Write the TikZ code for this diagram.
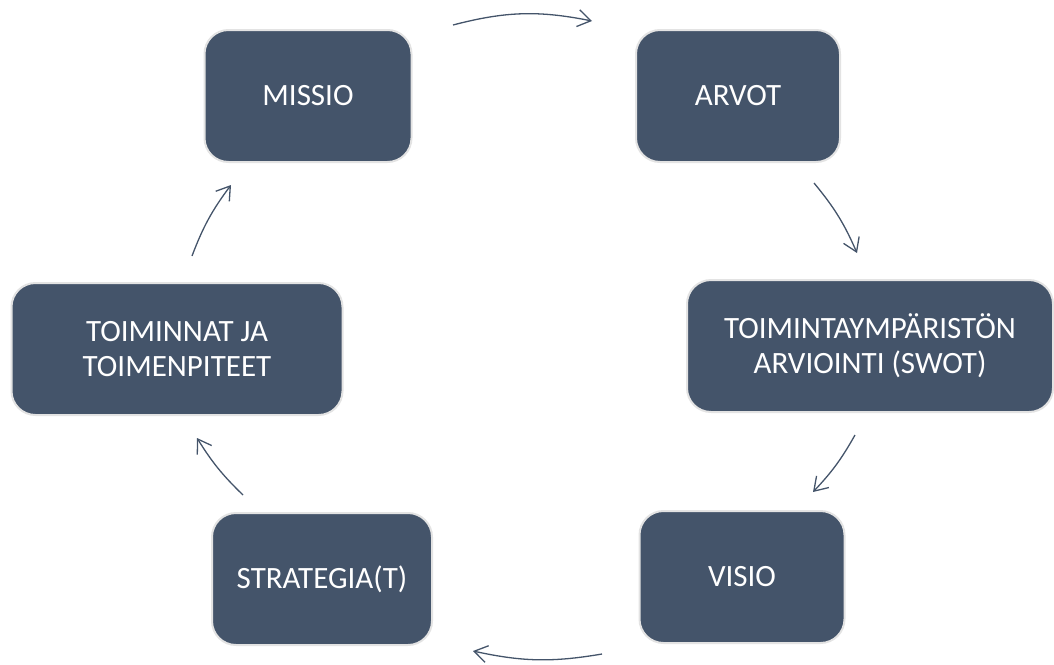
\documentclass[tikz,border=0pt]{standalone}
\usepackage{fontspec}
\setmainfont{Carlito}
\usetikzlibrary{arrows.meta}

\definecolor{slate}{HTML}{44546A}
\definecolor{rim}{HTML}{E3E3E3}

\begin{document}
\begin{tikzpicture}[x=1pt,y=-1pt,->,>={Straight Barb[length=13pt,width=17pt,line width=1.3pt]},
  line width=1.3pt,draw=slate,
  box node/.style={rectangle,rounded corners=24pt,fill=slate,draw=rim,line width=2pt,
    text=white,align=center,minimum height=132pt,
    font=\fontsize{31}{35}\selectfont},
  cyc edge/.style={slate,line width=1.3pt}]

  \useasboundingbox (0,0) rectangle (1054,664);

  \node[box node,minimum width=207pt] (missio) at (308,96) {MISSIO};
  \node[box node,minimum width=204pt] (arvot) at (738,96) {ARVOT};
  \node[box node,minimum width=366pt] (swot) at (870,346) {TOIMINTAYMPÄRISTÖN\\ARVIOINTI (SWOT)};
  \node[box node,minimum width=205pt] (visio) at (742,577) {VISIO};
  \node[box node,minimum width=220pt] (strat) at (322,579) {STRATEGIA(T)};
  \node[box node,minimum width=331pt] (toim) at (177,349) {TOIMINNAT JA\\TOIMENPITEET};

  \coordinate (m1) at (453,25);  \coordinate (a1) at (592,21);
  \coordinate (m2) at (814,183); \coordinate (a2) at (857,253);
  \coordinate (m3) at (855,435); \coordinate (a3) at (813,492);
  \coordinate (m4) at (602,654); \coordinate (a4) at (473,651);
  \coordinate (m5) at (243,495); \coordinate (a5) at (197,438);
  \coordinate (m6) at (192,256); \coordinate (a6) at (231,185);

  \path[cyc edge]
    (m1) edge [bend left=13] (a1)
    (m2) edge [bend left=8] (a2)
    (m3) edge [bend left=7] (a3)
    (m4) edge [bend left=11] (a4)
    (m5) edge [bend left=7] (a5)
    (m6) edge [bend left=8] (a6)
    ;

\end{tikzpicture}
\end{document}
